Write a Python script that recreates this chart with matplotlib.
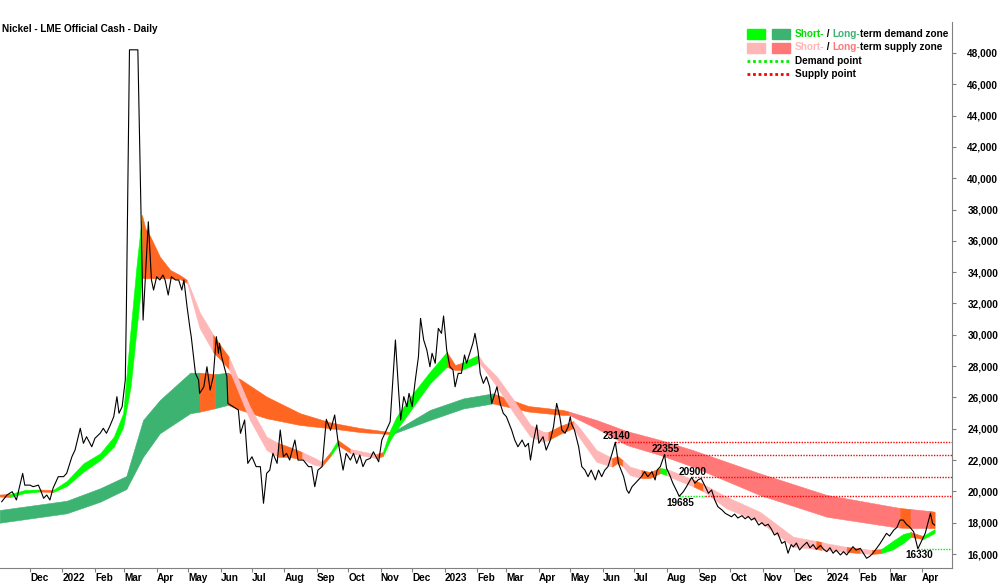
import numpy as np
import pandas as pd
import matplotlib
matplotlib.use("Agg")
import matplotlib.pyplot as plt
import matplotlib.dates as mdates
from matplotlib.patches import Rectangle
from matplotlib.lines import Line2D

plt.rcParams["font.family"] = ["Liberation Sans", "DejaVu Sans"]
plt.rcParams["font.weight"] = "bold"

# days counted from 1 Nov 2021
start = np.datetime64("2021-11-01")

price_day = [3, 8, 13, 17, 20, 23, 25, 30, 33, 38, 40, 43, 46, 49, 52, 57, 62, 65, 70, 73,
             78, 81, 84, 89, 92, 97, 100, 103, 106, 110, 113, 115, 118, 121, 122, 125, 133, 138, 143, 146,
             148, 151, 154, 157, 159, 162, 165, 169, 172, 175, 177, 180, 183, 184, 188, 191, 192, 196, 199, 202,
             205, 208, 210, 211, 213, 218, 219, 224, 229, 231, 235, 238, 242, 246, 250, 253, 256, 259, 262, 266,
             269, 272, 275, 278, 283, 286, 291, 296, 299, 302, 305, 309, 313, 317, 321, 324, 329, 332, 336, 339,
             342, 345, 348, 351, 355, 358, 363, 366, 369, 374, 379, 382, 384, 387, 390, 392, 395, 398, 401, 403,
             406, 409, 412, 414, 417, 420, 423, 425, 428, 431, 434, 436, 439, 442, 445, 447, 450, 453, 455, 458,
             460, 463, 466, 469, 471, 473, 476, 479, 482, 485, 490, 493, 496, 500, 503, 506, 508, 511, 514, 516,
             520, 523, 527, 530, 533, 536, 538, 541, 544, 546, 547, 550, 554, 557, 560, 563, 566, 570, 573, 576,
             579, 582, 586, 589, 592, 597, 600, 602, 605, 608, 611, 614, 617, 620, 624, 627, 629, 632, 636, 638,
             641, 644, 648, 650, 654, 657, 662, 665, 668, 671, 675, 678, 681, 684, 687, 691, 694, 697, 700, 703,
             706, 710, 713, 716, 719, 722, 726, 729, 732, 735, 738, 741, 744, 748, 751, 754, 757, 759, 762, 765,
             768, 772, 775, 778, 781, 785, 788, 791, 794, 797, 800, 804, 807, 810, 813, 816, 819, 823, 826, 829,
             832, 835, 839, 842, 845, 848, 851, 855, 858, 861, 864, 867, 870, 874, 878, 882, 885, 890, 892, 894]
price = [19340, 19770, 19980, 19450, 20300, 21150, 20400, 20400, 20300, 20400, 20090, 19560, 19770, 19450, 20200, 20940, 20940, 21150, 22210, 22640,
         24030, 23070, 23490, 22850, 23390, 23710, 24030, 23710, 24130, 24770, 26050, 24990, 25410, 27110, 31370, 48200, 48200, 30940, 37220, 33500,
         32860, 33710, 33500, 33820, 33500, 32540, 33710, 33500, 33500, 32860, 33500, 31790, 30300, 29880, 27540, 27110, 26260, 26680, 27960, 26470,
         27320, 29880, 28820, 29460, 28600, 27320, 25620, 25410, 25200, 23710, 24560, 21790, 22210, 21580, 21580, 19240, 21150, 21360, 22430, 21790,
         23920, 22210, 22430, 22000, 23280, 22000, 22000, 21580, 21580, 20300, 21360, 21580, 24600, 23900, 24880, 23280, 21360, 22430, 22000, 22430,
         21790, 22320, 21580, 22000, 22110, 22530, 21890, 23280, 23710, 24450, 29670, 26470, 24560, 26050, 25410, 26260, 25410, 27110, 28600, 31050,
         29670, 29030, 27960, 28820, 28180, 30410, 30090, 31200, 29030, 27960, 27750, 26680, 27540, 27540, 28710, 28180, 28820, 29460, 30090, 28920,
         27540, 26900, 27320, 26680, 25620, 26050, 26680, 25620, 24990, 24770, 23920, 23280, 22850, 23280, 22850, 23070, 22000, 23280, 24240, 23070,
         23490, 22640, 23280, 24130, 25620, 24770, 23920, 23710, 24130, 24770, 24350, 23920, 22850, 21580, 21360, 20940, 21360, 20730, 21360, 20940,
         21360, 21580, 22430, 23140, 21790, 20940, 20090, 19880, 20300, 20520, 20730, 20940, 21260, 20940, 21260, 20730, 21360, 21580, 22355, 21470,
         21040, 20520, 19980, 19685, 19980, 20300, 20900, 20520, 20730, 20830, 20300, 19880, 20090, 19450, 19020, 18810, 18600, 18490, 18380, 18550,
         18300, 18450, 18250, 18400, 18170, 18300, 17850, 18000, 17800, 17900, 17600, 17210, 17350, 16680, 16800, 16050, 16600, 16450, 16700, 16260,
         16500, 16750, 16400, 16600, 16300, 16550, 16300, 16150, 16400, 16050, 16250, 15940, 16150, 15940, 16200, 16470, 16250, 16360, 16050, 15730,
         15850, 16050, 16400, 16680, 17000, 17320, 17150, 17530, 17700, 18170, 18170, 17900, 17740, 17420, 16330, 16900, 17320, 18600, 17960, 17850]

# short-term band: g = demand, p = supply, o = neutral (colour of the segment starting at that point)
st_day = [1, 11, 25, 39, 52, 65, 81, 97, 110, 119, 126, 132, 137, 140, 145, 154, 164, 173, 180, 192,
          205, 213, 220, 240, 256, 267, 278, 290, 302, 309, 317, 324, 336, 350, 361, 367, 374, 380, 396, 412,
          428, 436, 442, 458, 463, 476, 492, 508, 520, 525, 536, 549, 555, 571, 586, 591, 596, 603, 614, 622,
          632, 638, 648, 664, 673, 695, 727, 759, 781, 786, 791, 810, 823, 834, 843, 854, 864, 871, 883, 894]
st_top = [19800, 19830, 20090, 20120, 20090, 20660, 21790, 22430, 23490, 25000, 30300, 34580, 37650, 36820, 36260, 34990, 34140, 33820, 33500, 31450,
          29990, 29220, 28580, 25410, 23490, 23090, 22830, 22510, 22130, 21880, 22510, 23280, 22710, 22510, 22390, 22510, 23920, 24770, 26280, 27640,
          28900, 28070, 28200, 28710, 28200, 27320, 25830, 24240, 23810, 23790, 24170, 24490, 24050, 22640, 22130, 22260, 22000, 21580, 21360, 21240,
          21490, 21430, 21170, 20730, 20470, 19660, 18700, 17100, 16830, 16770, 16680, 16450, 16350, 16260, 16320, 16830, 17280, 17400, 17150, 17600]
st_bot = [19670, 19640, 19900, 19990, 19960, 20340, 21260, 22000, 22850, 24110, 26680, 30520, 33630, 33610, 33610, 33610, 33610, 33560, 33310, 30430,
          28900, 28330, 27810, 24560, 22640, 22210, 22190, 22070, 21680, 21620, 22260, 22960, 22450, 22260, 22130, 22260, 23280, 23920, 25410, 26900,
          27960, 27750, 27750, 28220, 27880, 26680, 25000, 23490, 23170, 23280, 23660, 24050, 23410, 21890, 21580, 21810, 21620, 21040, 20850, 20850,
          21170, 21040, 20730, 20300, 20020, 18920, 18060, 16470, 16320, 16260, 16260, 16130, 16060, 16000, 16060, 16290, 16700, 17090, 16960, 17340]
st_col = ("oggogggggggg" "oooooo" "pp" "oo" "ppp" "oo" "pp" "o" "g" "o" "pp" "o" "ggggg" "oo" "g"
          "pppppp" "oo" "ppp" "oo" "pp" "oo" "g" "pp" "o" "pppp" "o" "pp" "o" "p" "o" "ggg" "o" "gg")

# long-term band: G = demand, R = supply, O = neutral
lt_day = [1, 65, 97, 122, 138, 154, 183, 192, 207, 219, 231, 256, 288, 317, 345, 374, 377, 412, 444, 472,
          506, 539, 545, 571, 600, 632, 663, 727, 791, 854, 861, 871, 889, 894]
lt_top = [18810, 19400, 20200, 20980, 24560, 25830, 27580, 27580, 27490, 27580, 27160, 26050, 24990, 24400, 24050, 23790, 23820, 25200, 25940, 26260,
          25450, 25200, 25090, 24560, 23850, 23280, 22640, 21150, 19770, 19020, 18940, 18870, 18750, 18700]
lt_bot = [18000, 18600, 19340, 20150, 22210, 23710, 24990, 25090, 25320, 25520, 25200, 24670, 24240, 24030, 23790, 23660, 23690, 24560, 25300, 25620,
          25100, 24880, 24880, 24030, 22960, 22320, 21580, 19770, 18380, 17740, 17690, 17660, 17660, 17660]
lt_col = "GGGGGGG" "O" "G" "OOOOOOO" "GGG" "OOO" "RRRRRRRR" "O" "R" "OO"

# supply / demand points
point_value = [23140, 22355, 20900, 19685, 16330]
point_day = [589, 636, 662, 650, 878]
point_flip_day = [589, 636, 662, 675, None]   # demand (green) until this day, supply (red) after
point_above = [True, True, True, False, False]

month_starts = pd.date_range("2021-12-01", "2024-04-01", freq="MS")

colors = {"g": "#00ff00", "o": "#ff6622", "p": "#ffb6b6",
          "G": "#3cb371", "O": "#ff6622", "R": "#ff7777"}
red_dot = "#ff0000"
green_dot = "#00ee00"
FS = 7.2


def to_x(days):
    return mdates.date2num(start) + np.asarray(days, dtype=float)


def draw_band(ax, days, top, bot, cols, z):
    x = to_x(days)
    top = np.asarray(top, dtype=float)
    bot = np.asarray(bot, dtype=float)
    n = len(days)
    i = 0
    while i < n - 1:
        j = i
        while j < n - 2 and cols[j + 1] == cols[i]:
            j += 1
        c = colors[cols[i]]
        ax.fill_between(x[i:j + 2], top[i:j + 2], bot[i:j + 2], color=c,
                        ec=c, lw=0.4, zorder=z)
        i = j + 1


fig = plt.figure(figsize=(10, 5.83), dpi=100)
ax = fig.add_axes([0.0, 0.0257, 0.952, 0.9365])

draw_band(ax, lt_day, lt_top, lt_bot, lt_col, 1)
draw_band(ax, st_day, st_top, st_bot, st_col, 2)
ax.plot(to_x(price_day), price, color="black", lw=0.8, zorder=5)

x_min, x_max = to_x(1.34), to_x(910.6)

for v, d0, flip, above in zip(point_value, point_day, point_flip_day, point_above):
    x0 = to_x(d0)
    if flip is None:
        ax.plot([x0, x_max], [v, v], color=green_dot, ls=(0, (1, 1)), lw=1, zorder=4)
    else:
        xf = to_x(flip)
        if xf > x0:
            ax.plot([x0, xf], [v, v], color=green_dot, ls=(0, (1, 1)), lw=1, zorder=4)
        ax.plot([xf, x_max], [v, v], color=red_dot, ls=(0, (1, 1)), lw=1, zorder=4)
    if above:
        ax.annotate(str(v), (x0, v), xytext=(1, 2), textcoords="offset points",
                    ha="center", va="baseline", fontsize=FS, fontweight="bold", zorder=6)
    else:
        ax.annotate(str(v), (x0, v), xytext=(1, -1), textcoords="offset points",
                    ha="center", va="top", fontsize=FS, fontweight="bold", zorder=6)

ax.set_xlim(x_min, x_max)
ax.set_ylim(15106, 49974)

for side in ["left", "top"]:
    ax.spines[side].set_visible(False)
for side in ["right", "bottom"]:
    ax.spines[side].set_color("#808080")

ax.yaxis.tick_right()
ax.set_yticks(range(16000, 48001, 2000))
ax.set_yticklabels([f"{v:,}" for v in range(16000, 48001, 2000)])
ax.tick_params(axis="y", direction="out", length=3, pad=8, labelsize=FS,
               color="#808080", labelcolor="black")

ax.set_xticks(mdates.date2num(month_starts.to_numpy()))
ax.set_xticklabels([str(m.year) if m.month == 1 else m.strftime("%b") for m in month_starts],
                   ha="left")
ax.tick_params(axis="x", direction="out", length=3, pad=0.3, labelsize=FS,
               color="#808080", labelcolor="black")

fig.text(0.002, 1 - 29 / 583, "Nickel - LME Official Cash - Daily", fontsize=FS,
         fontweight="bold", va="center", ha="left")


# legend built by hand, in figure pixels
def fx(px):
    return px / 1000


def fy(py):
    return 1 - py / 583


legend_rows = [
    [("Short-", "#00dd00"), (" / ", "black"), ("Long-", "#3cb371"), ("term demand zone", "black")],
    [("Short-", "#ffb6b6"), (" / ", "black"), ("Long-", "#ff7777"), ("term supply zone", "black")],
    [("Demand point", "black")],
    [("Supply point", "black")],
]
row_y = [34, 47.5, 61, 74]

for k, parts in enumerate(legend_rows):
    t = fig.text(fx(795), fy(row_y[k]), parts[0][0], color=parts[0][1], fontsize=FS,
                 fontweight="bold", va="center", ha="left")
    for s, c in parts[1:]:
        t = ax.annotate(s, xy=(1, 0), xycoords=t, va="bottom", ha="left", color=c,
                        fontsize=FS, fontweight="bold", annotation_clip=False)

patch_cols = [("#00ff00", "#3cb371"), ("#ffb6b6", "#ff7777")]
for k, (c1, c2) in enumerate(patch_cols):
    yc = row_y[k]
    fig.patches.append(Rectangle((fx(747), fy(yc + 5)), fx(18), 10 / 583, color=c1,
                                 transform=fig.transFigure, figure=fig))
    fig.patches.append(Rectangle((fx(772), fy(yc + 5)), fx(18), 10 / 583, color=c2,
                                 transform=fig.transFigure, figure=fig))
for yc, c in [(row_y[2], green_dot), (row_y[3], red_dot)]:
    fig.lines.append(Line2D([fx(747), fx(790)], [fy(yc), fy(yc)], color=c, lw=2,
                            ls=(0, (1, 1)), transform=fig.transFigure, figure=fig))

fig.savefig("out.png", dpi=100)
